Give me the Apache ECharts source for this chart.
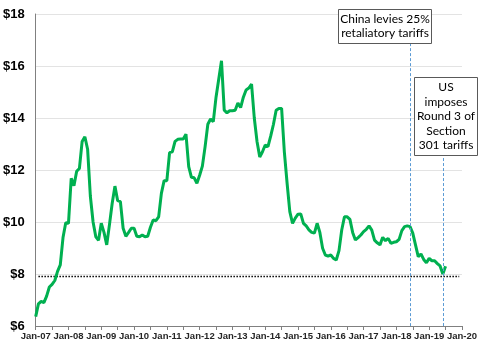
<!DOCTYPE html>
<html>
<head>
<meta charset="utf-8">
<script src="https://cdn.jsdelivr.net/npm/echarts@6/dist/echarts.min.js"></script>
<style>html,body{margin:0;padding:0;background:#fff}#c{width:480px;height:360px}</style>
</head>
<body>
<div id="c"></div>
<script>
// Monthly categories Jan-07 .. Jan-20
const months = ['Jan','Feb','Mar','Apr','May','Jun','Jul','Aug','Sep','Oct','Nov','Dec'];
const categories = [];
for (let y = 7; y <= 20; y++) {
  for (let m = 0; m < 12; m++) {
    if (y === 20 && m > 0) break;
    categories.push(months[m] + '-' + String(y).padStart(2, '0'));
  }
}
// Price values, Jan-07 .. Jul-19
const priceValues = [
  6.36, 6.85, 6.95, 6.90, 7.15, 7.50, 7.60, 7.75, 8.10, 8.35, 9.40, 9.97,
  9.95, 11.68, 11.40, 11.95, 12.06, 13.10, 13.28, 12.80, 11.00, 10.00, 9.43, 9.30,
  9.95, 9.60, 9.12, 9.90, 10.72, 11.38, 10.82, 10.78, 9.76, 9.45, 9.60, 9.76,
  9.76, 9.45, 9.43, 9.50, 9.43, 9.45, 9.80, 10.08, 10.05, 10.20, 11.10, 11.59,
  11.59, 12.67, 12.70, 13.10, 13.18, 13.19, 13.19, 13.38, 12.13, 11.72, 11.70, 11.49,
  11.80, 12.15, 12.90, 13.76, 13.96, 13.86, 14.80, 15.50, 16.20, 14.30, 14.20, 14.28,
  14.28, 14.30, 14.58, 14.40, 14.80, 15.08, 15.15, 15.30, 14.00, 13.10, 12.50, 12.70,
  12.96, 12.90, 13.30, 13.75, 14.30, 14.37, 14.37, 12.70, 11.50, 10.40, 9.95, 10.15,
  10.30, 10.31, 9.95, 9.85, 9.70, 9.60, 9.57, 9.95, 9.60, 8.99, 8.73, 8.69,
  8.73, 8.60, 8.54, 8.90, 9.69, 10.20, 10.20, 10.10, 9.60, 9.31, 9.40, 9.50,
  9.63, 9.72, 9.85, 9.69, 9.30, 9.20, 9.12, 9.41, 9.28, 9.37, 9.18, 9.22,
  9.24, 9.33, 9.67, 9.82, 9.85, 9.82, 9.57, 9.12, 8.67, 8.77, 8.56, 8.43,
  8.60, 8.51, 8.51, 8.40, 8.31, 8.00, 8.30
];
// Dotted reference level, Feb-07 .. Dec-19
const refLevel = 7.9;
const refStart = 'Feb-07', refEnd = 'Dec-19';
// Event markers
const event1 = { month: 'Jun-18', top: 16.88, text: 'China levies 25%\nretaliatory tariffs' };
const event2 = { month: 'Jun-19', top: 12.46, text: 'US\nimposes\nRound 3 of\nSection\n301 tariffs' };
const yTicks = { min: 6, max: 18, interval: 2 };

const priceData = categories.map((c, i) => i < priceValues.length ? priceValues[i] : null);
const i0 = categories.indexOf(refStart), i1 = categories.indexOf(refEnd);
const refData = categories.map((c, i) => (i >= i0 && i <= i1) ? refLevel : null);

const chart = echarts.init(document.getElementById('c'), null, { renderer: 'canvas' });
chart.setOption({
  animation: false,
  grid: { left: 32, right: 16.5, top: 14, bottom: 34, containLabel: false },
  xAxis: {
    type: 'category', data: categories, boundaryGap: false,
    axisLine: { show: true, lineStyle: { color: '#808080', width: 1 } },
    axisTick: { show: true, interval: 5, length: 4, lineStyle: { color: '#808080' } },
    axisLabel: { interval: 11, color: '#262626', fontFamily: 'Liberation Sans, Arial', fontWeight: 'bold', fontSize: 9.5, margin: 5 },
    splitLine: { show: false }
  },
  yAxis: {
    type: 'value', min: yTicks.min, max: yTicks.max, interval: yTicks.interval,
    axisLine: { show: true, lineStyle: { color: '#808080', width: 1 } },
    axisTick: { show: false },
    axisLabel: { formatter: v => '$' + v, color: '#000', fontFamily: 'Liberation Sans, Arial', fontWeight: 'bold', fontSize: 13, margin: 11 },
    splitLine: { show: true, lineStyle: { color: '#e3e3e3', width: 1 } }
  },
  series: [
    {
      type: 'line', data: refData, symbol: 'none', silent: true,
      lineStyle: { color: '#000', width: 1.5, type: [1.5, 1.5] }, z: 2
    },
    {
      type: 'line', data: priceData, symbol: 'none', connectNulls: false,
      lineStyle: { color: '#00b050', width: 3 }, z: 4,
      markLine: {
        silent: true, symbol: 'none', label: { show: false },
        lineStyle: { color: '#5b9bd5', width: 1, type: [3, 2] },
        data: [
          [{ coord: [event1.month, event1.top] }, { coord: [event1.month, yTicks.min] }],
          [{ coord: [event2.month, event2.top] }, { coord: [event2.month, yTicks.min] }]
        ]
      }
    }
  ],
  graphic: [
    {
      type: 'group', left: 338, top: 9, z: 100,
      children: [
        { type: 'rect', z: 100, shape: { x: 0, y: 0, width: 93, height: 34 }, style: { fill: '#fff', stroke: '#595959', lineWidth: 1 } },
        { type: 'text', z: 101, x: 46.5, y: 17, style: { text: event1.text, fill: '#000', font: '12px Lato', align: 'center', verticalAlign: 'middle', lineHeight: 14 } }
      ]
    },
    {
      type: 'group', left: 414, top: 77, z: 100,
      children: [
        { type: 'rect', z: 100, shape: { x: 0, y: 0, width: 63, height: 78 }, style: { fill: '#fff', stroke: '#595959', lineWidth: 1 } },
        { type: 'text', z: 101, x: 31.5, y: 39, style: { text: event2.text, fill: '#000', font: '12px Lato', align: 'center', verticalAlign: 'middle', lineHeight: 14.5 } }
      ]
    }
  ]
});
</script>
</body>
</html>
